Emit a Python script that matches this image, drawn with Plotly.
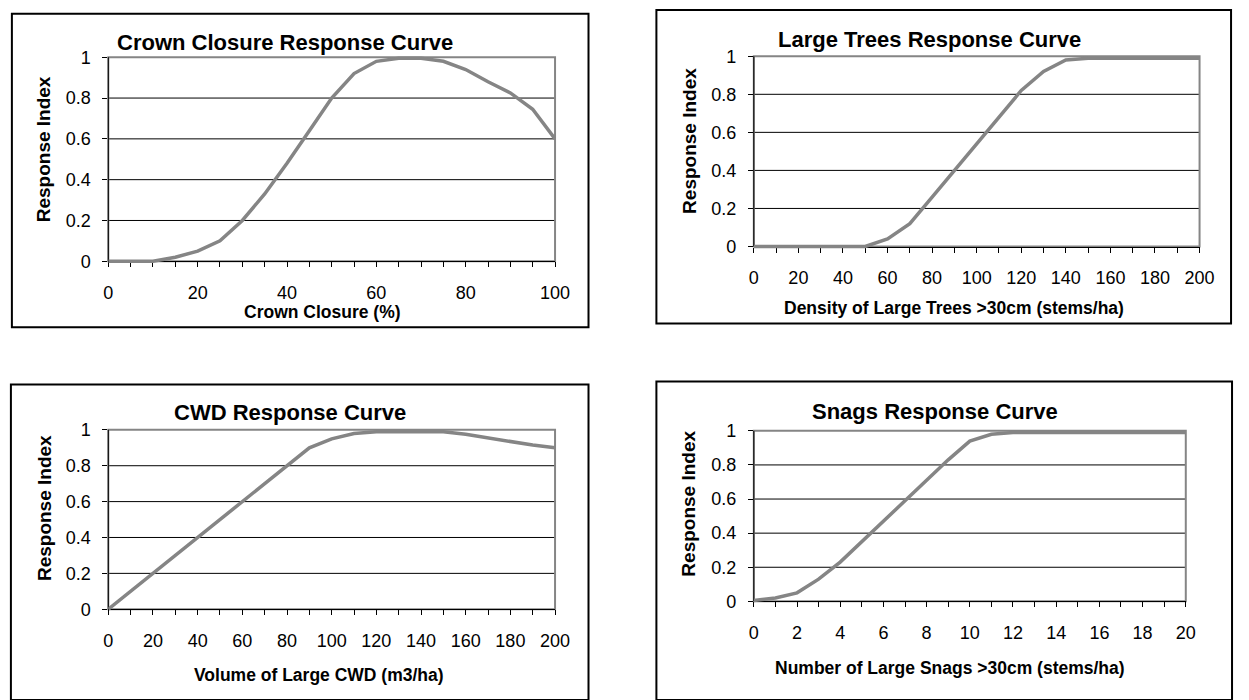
import plotly.graph_objects as go

W, H = 1249, 700

# ---------------- data ----------------
crown_x = list(range(0, 101, 5))
crown_y = [0, 0, 0, 0.02, 0.05, 0.10, 0.20, 0.33, 0.48, 0.64, 0.80,
           0.92, 0.98, 0.995, 0.995, 0.98, 0.94, 0.88, 0.825, 0.745, 0.60]

trees_x = list(range(0, 201, 10))
trees_y = [0, 0, 0, 0, 0, 0, 0.04, 0.12, 0.26, 0.40, 0.54,
           0.68, 0.82, 0.92, 0.98, 0.99, 0.99, 0.99, 0.99, 0.99, 0.99]

cwd_x = list(range(0, 201, 10))
cwd_y = [0, 0.10, 0.20, 0.30, 0.40, 0.50, 0.60, 0.70, 0.80, 0.90, 0.95,
         0.98, 0.99, 0.99, 0.99, 0.99, 0.975, 0.955, 0.935, 0.915, 0.90]

snag_x = list(range(0, 21))
snag_y = [0.005, 0.02, 0.05, 0.13, 0.23, 0.35, 0.47, 0.59, 0.71, 0.83, 0.94,
          0.98, 0.99, 0.99, 0.99, 0.99, 0.99, 0.99, 0.99, 0.99, 0.99]

crown_ticks = [0, 20, 40, 60, 80, 100]
trees_ticks = [0, 20, 40, 60, 80, 100, 120, 140, 160, 180, 200]
cwd_ticks = [0, 20, 40, 60, 80, 100, 120, 140, 160, 180, 200]
snag_ticks = [0, 2, 4, 6, 8, 10, 12, 14, 16, 18, 20]
y_ticks = [0, 0.2, 0.4, 0.6, 0.8, 1]
y_ticktext = ["0", "0.2", "0.4", "0.6", "0.8", "1"]

titles = ["Crown Closure Response Curve", "Large Trees Response Curve",
          "CWD Response Curve", "Snags Response Curve"]
x_titles = ["Crown Closure (%)", "Density of Large Trees >30cm (stems/ha)",
            "Volume of Large CWD (m3/ha)", "Number of Large Snags >30cm (stems/ha)"]
y_title = "Response Index"

# ---------------- layout (pixel geometry) ----------------
FONT = "Liberation Sans, Arial, Helvetica, sans-serif"
GRAY = "#858585"
PAD = 0.03

panels = [
    dict(x=crown_x, y=crown_y, ticks=crown_ticks, step=5, xmax=100,
         xl=105, xr=559, yt=53, yb=260, box=(7, 9, 593, 327),
         tpos=(285, 38), ypos=(40, 146), xpos=(323, 311)),
    dict(x=trees_x, y=trees_y, ticks=trees_ticks, step=10, xmax=200,
         xl=761, xr=1214, yt=52, yb=245, box=(662, 5, 1246, 323),
         tpos=(940, 35), ypos=(695, 138), xpos=(964, 307)),
    dict(x=cwd_x, y=cwd_y, ticks=cwd_ticks, step=10, xmax=200,
         xl=105, xr=559, yt=431, yb=613, box=(6, 385, 593, 705),
         tpos=(290, 413), ypos=(40, 510), xpos=(319, 680)),
    dict(x=snag_x, y=snag_y, ticks=snag_ticks, step=1, xmax=20,
         xl=761, xr=1200, yt=432, yb=605, box=(662, 382, 1247, 705),
         tpos=(945, 412), ypos=(695, 506), xpos=(960, 673)),
]

fig = go.Figure()
shapes = []
annotations = []


def px(v):
    return v / W


def py(v):
    return 1 - v / H


for i, p in enumerate(panels, start=1):
    sfx = "" if i == 1 else str(i)
    xa, ya = "x" + sfx, "y" + sfx
    fig.add_trace(go.Scatter(x=p["x"], y=p["y"], mode="lines",
                             line=dict(color=GRAY, width=3.5),
                             xaxis=xa, yaxis=ya, showlegend=False,
                             hoverinfo="x+y"))
    span = p["yb"] - p["yt"]
    ydom = [py(p["yb"] + PAD * span), py(p["yt"] - PAD * span)]
    tv = list(range(0, p["xmax"] + 1, p["step"]))
    tt = [str(v) if v in p["ticks"] else "" for v in tv]
    fig.layout["xaxis" + sfx] = dict(
        domain=[px(p["xl"]), px(p["xr"])], range=[0, p["xmax"]],
        anchor="free", position=py(p["yb"]),
        showline=True, linecolor="black", linewidth=1,
        ticks="outside", ticklen=5, tickcolor="black", tickwidth=1,
        tickmode="array", tickvals=tv, ticktext=tt,
        ticklabelstandoff=10,
        tickfont=dict(family=FONT, size=18, color="black"),
        showgrid=False, zeroline=False, layer="below traces",
        fixedrange=True)
    fig.layout["yaxis" + sfx] = dict(
        domain=ydom, range=[-PAD, 1 + PAD], anchor=xa,
        showline=False, ticks="outside", ticklen=5, tickcolor="black",
        tickwidth=1, tickmode="array", tickvals=y_ticks, ticktext=y_ticktext,
        ticklabelstandoff=8,
        tickfont=dict(family=FONT, size=18, color="black"),
        showgrid=False, zeroline=False, fixedrange=True)
    # horizontal grid lines (inner ticks only)
    for gv in y_ticks[1:-1]:
        shapes.append(dict(type="line", xref=xa + " domain", yref=ya,
                           x0=0, x1=1, y0=gv, y1=gv, layer="below",
                           line=dict(color="black", width=1)))
    # plot-area border (gray) and black left axis
    shapes.append(dict(type="rect", xref=xa + " domain", yref=ya,
                       x0=0, x1=1, y0=0, y1=1, layer="below",
                       line=dict(color=GRAY, width=2)))
    shapes.append(dict(type="line", xref=xa + " domain", yref=ya,
                       x0=0, x1=0, y0=0, y1=1, layer="below",
                       line=dict(color="black", width=1)))
    # outer frame
    b = p["box"]
    shapes.append(dict(type="rect", xref="paper", yref="paper",
                       x0=px(b[0]), x1=px(b[2]), y0=py(b[3]), y1=py(b[1]),
                       line=dict(color="black", width=2)))
    annotations.append(dict(text=titles[i - 1], xref="paper", yref="paper",
                            x=px(p["tpos"][0]), y=py(p["tpos"][1]),
                            xanchor="center", yanchor="middle", showarrow=False,
                            font=dict(family=FONT, size=22, color="black",
                                      weight="bold")))
    annotations.append(dict(text=y_title, xref="paper", yref="paper",
                            x=px(p["ypos"][0]), y=py(p["ypos"][1]),
                            xanchor="center", yanchor="middle", showarrow=False,
                            textangle=-90,
                            font=dict(family=FONT, size=19, color="black",
                                      weight="bold")))
    annotations.append(dict(text=x_titles[i - 1], xref="paper", yref="paper",
                            x=px(p["xpos"][0]), y=py(p["xpos"][1]),
                            xanchor="center", yanchor="middle", showarrow=False,
                            font=dict(family=FONT, size=17.5, color="black",
                                      weight="bold")))

fig.update_layout(width=W, height=H, margin=dict(l=0, r=0, t=0, b=0),
                  paper_bgcolor="white", plot_bgcolor="white",
                  shapes=shapes, annotations=annotations, showlegend=False)

# remove the default page margin so the 1249x700 figure fills the window exactly
fig.write_html("out.html",
               config={"displayModeBar": False},
               post_script="document.body.style.margin='0';"
                           "document.body.style.overflow='hidden';")
